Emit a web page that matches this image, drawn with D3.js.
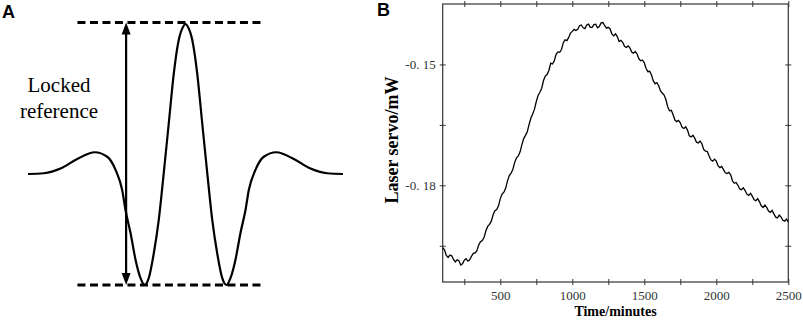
<!DOCTYPE html>
<html>
<head>
<meta charset="utf-8">
<script src="https://cdn.jsdelivr.net/npm/d3@7"></script>
<style>
  body { margin: 0; background: #fff; }
  svg { display: block; }
</style>
</head>
<body>
<svg id="chart" width="803" height="323"></svg>
<script>
// Panel A: schematic error signal (arbitrary units)
const schemX = [-10, -9, -7.9, -6.88, -5.76, -4.97, -4.44, -4.02, -3.81, -3.49, -3.17, -2.86, -2.6, -2.33, -2.01, -1.7, -1.38, -1.06, -0.74, -0.43, -0.15, 0,
  0.15, 0.43, 0.74, 1.06, 1.38, 1.7, 2.01, 2.33, 2.6, 2.86, 3.17, 3.49, 3.81, 4.02, 4.44, 4.97, 5.76, 6.88, 7.9, 9, 10];
const schemY = [0, 0.005, 0.038, 0.1, 0.145, 0.115, 0.027, -0.107, -0.24, -0.393, -0.573, -0.693, -0.74, -0.693, -0.527, -0.307, 0.007, 0.34, 0.673, 0.893, 0.982, 1,
  0.982, 0.893, 0.673, 0.34, 0.007, -0.307, -0.527, -0.693, -0.74, -0.693, -0.573, -0.393, -0.24, -0.107, 0.027, 0.115, 0.145, 0.1, 0.038, 0.005, 0];
const refLevels = [1.01, -0.74];
const refSpan = [-6.86, 4.95];
const arrowX = -3.77;
const lockedLabel = ["Locked", "reference"];

// Panel B: laser servo (mW) vs time (minutes)
const timeMin = [100, 112.5, 125, 137.5, 150, 162.5, 175, 187.5, 200, 212.5, 225, 237.5, 250, 262.5, 275, 287.5,
  300, 312.5, 325, 337.5, 350, 362.5, 375, 387.5, 400, 412.5, 425, 437.5, 450, 462.5, 475, 487.5,
  500, 512.5, 525, 537.5, 550, 562.5, 575, 587.5, 600, 612.5, 625, 637.5, 650, 662.5, 675, 687.5,
  700, 712.5, 725, 737.5, 750, 762.5, 775, 787.5, 800, 812.5, 825, 837.5, 850, 862.5, 875, 887.5,
  900, 912.5, 925, 937.5, 950, 962.5, 975, 987.5, 1000, 1012.5, 1025, 1037.5, 1050, 1062.5, 1075, 1087.5,
  1100, 1112.5, 1125, 1137.5, 1150, 1162.5, 1175, 1187.5, 1200, 1212.5, 1225, 1237.5, 1250, 1262.5, 1275, 1287.5,
  1300, 1312.5, 1325, 1337.5, 1350, 1362.5, 1375, 1387.5, 1400, 1412.5, 1425, 1437.5, 1450, 1462.5, 1475, 1487.5,
  1500, 1512.5, 1525, 1537.5, 1550, 1562.5, 1575, 1587.5, 1600, 1612.5, 1625, 1637.5, 1650, 1662.5, 1675, 1687.5,
  1700, 1712.5, 1725, 1737.5, 1750, 1762.5, 1775, 1787.5, 1800, 1812.5, 1825, 1837.5, 1850, 1862.5, 1875, 1887.5,
  1900, 1912.5, 1925, 1937.5, 1950, 1962.5, 1975, 1987.5, 2000, 2012.5, 2025, 2037.5, 2050, 2062.5, 2075, 2087.5,
  2100, 2112.5, 2125, 2137.5, 2150, 2162.5, 2175, 2187.5, 2200, 2212.5, 2225, 2237.5, 2250, 2262.5, 2275, 2287.5,
  2300, 2312.5, 2325, 2337.5, 2350, 2362.5, 2375, 2387.5, 2400, 2412.5, 2425, 2437.5, 2450, 2462.5, 2475, 2487.5, 2500];
const servo = [-0.1955, -0.1960, -0.1974, -0.1979, -0.1973, -0.1975, -0.1984, -0.1990, -0.1985, -0.1987, -0.1998, -0.1995, -0.1986, -0.1982, -0.1988, -0.1985,
  -0.1976, -0.1969, -0.1968, -0.1962, -0.1948, -0.1940, -0.1937, -0.1929, -0.1913, -0.1902, -0.1897, -0.1889, -0.1873, -0.1863, -0.1860, -0.1851,
  -0.1833, -0.1822, -0.1817, -0.1807, -0.1789, -0.1776, -0.1770, -0.1760, -0.1743, -0.1732, -0.1727, -0.1717, -0.1699, -0.1684, -0.1676, -0.1667,
  -0.1649, -0.1633, -0.1623, -0.1611, -0.1592, -0.1577, -0.1569, -0.1559, -0.1540, -0.1529, -0.1525, -0.1515, -0.1497, -0.1499, -0.1491, -0.1475,
  -0.1469, -0.1470, -0.1463, -0.1446, -0.1439, -0.1441, -0.1433, -0.1422, -0.1418, -0.1413, -0.1416, -0.1413, -0.1404, -0.1402, -0.1409, -0.1411,
  -0.1402, -0.1400, -0.1408, -0.1408, -0.1401, -0.1400, -0.1409, -0.1406, -0.1397, -0.1396, -0.1404, -0.1410, -0.1408, -0.1412, -0.1424, -0.1429,
  -0.1424, -0.1431, -0.1443, -0.1440, -0.1445, -0.1455, -0.1458, -0.1454, -0.1459, -0.1469, -0.1472, -0.1468, -0.1474, -0.1486, -0.1491, -0.1489,
  -0.1496, -0.1510, -0.1518, -0.1517, -0.1526, -0.1541, -0.1548, -0.1545, -0.1553, -0.1566, -0.1571, -0.1576, -0.1587, -0.1605, -0.1615, -0.1614,
  -0.1625, -0.1638, -0.1642, -0.1639, -0.1645, -0.1656, -0.1659, -0.1655, -0.1663, -0.1677, -0.1680, -0.1676, -0.1683, -0.1693, -0.1695, -0.1690,
  -0.1697, -0.1711, -0.1715, -0.1716, -0.1727, -0.1737, -0.1740, -0.1735, -0.1740, -0.1752, -0.1756, -0.1753, -0.1761, -0.1769, -0.1771, -0.1768,
  -0.1774, -0.1789, -0.1795, -0.1793, -0.1800, -0.1809, -0.1811, -0.1806, -0.1813, -0.1822, -0.1825, -0.1820, -0.1827, -0.1836, -0.1838, -0.1833,
  -0.1841, -0.1851, -0.1855, -0.1849, -0.1855, -0.1864, -0.1867, -0.1862, -0.1871, -0.1879, -0.1881, -0.1874, -0.1879, -0.1887, -0.1889, -0.1884, -0.1891];
const xMajor = [500, 1000, 1500, 2000, 2500];
const xMinor = [250, 750, 1250, 1750, 2250];
const yMajor = [-0.15, -0.18];
const yMinor = [-0.165, -0.195];
const yTickLabels = ["-0. 15", "-0. 18"];

const svg = d3.select("#chart");
const serif = "'Liberation Serif', 'Times New Roman', serif";

// ---------- Panel A ----------
const ax = d3.scaleLinear().domain([-10, 10]).range([28, 343]);
const ay = d3.scaleLinear().domain([0, 1]).range([174, 24]);

svg.append("text")
  .attr("x", 2).attr("y", 18)
  .attr("font-family", "'Liberation Sans', Arial, sans-serif")
  .attr("font-weight", "bold").attr("font-size", 18)
  .text("A");

refLevels.forEach(v => {
  svg.append("line")
    .attr("x1", ax(refSpan[0])).attr("x2", ax(refSpan[1]))
    .attr("y1", ay(v)).attr("y2", ay(v))
    .attr("stroke", "#000").attr("stroke-width", 3)
    .attr("stroke-dasharray", "8,4.5");
});

svg.append("path")
  .datum(schemX.map((x, i) => [x, schemY[i]]))
  .attr("d", d3.line().x(d => ax(d[0])).y(d => ay(d[1])).curve(d3.curveMonotoneX))
  .attr("fill", "none").attr("stroke", "#000").attr("stroke-width", 2.2);

// double-headed arrow
const axPos = ax(arrowX), yTop = ay(refLevels[0]), yBot = ay(refLevels[1]);
svg.append("line")
  .attr("x1", axPos).attr("x2", axPos)
  .attr("y1", yTop + 8).attr("y2", yBot - 8)
  .attr("stroke", "#000").attr("stroke-width", 2.2);
svg.append("path")
  .attr("d", `M${axPos},${yTop} L${axPos - 4.5},${yTop + 12} L${axPos + 4.5},${yTop + 12} Z`)
  .attr("fill", "#000");
svg.append("path")
  .attr("d", `M${axPos},${yBot} L${axPos - 4.5},${yBot - 12} L${axPos + 4.5},${yBot - 12} Z`)
  .attr("fill", "#000");

lockedLabel.forEach((t, i) => {
  svg.append("text")
    .attr("x", 59).attr("y", 92 + i * 25.5)
    .attr("text-anchor", "middle")
    .attr("font-family", serif).attr("font-size", 21)
    .text(t);
});

// ---------- Panel B ----------
const pLeft = 442.7, pRight = 788.3, pTop = 4, pBottom = 282;
const x = d3.scaleLinear().domain([100, 2500]).range([pLeft, pRight]);
const y = d3.scaleLinear().domain([-0.204, -0.135]).range([pBottom, pTop]);

svg.append("text")
  .attr("x", 377).attr("y", 16)
  .attr("font-family", "'Liberation Sans', Arial, sans-serif")
  .attr("font-weight", "bold").attr("font-size", 18)
  .text("B");

// ticks cross the frame: 3px out, 3px in
svg.append("g").attr("transform", `translate(0,${pBottom})`)
  .call(d3.axisBottom(x).tickValues(xMajor).tickSize(3).tickPadding(6).tickFormat(d3.format("d")))
  .call(g => g.selectAll(".tick line").attr("y1", -3));
svg.append("g").attr("transform", `translate(0,${pBottom})`)
  .call(d3.axisBottom(x).tickValues(xMinor).tickSize(3).tickFormat(""))
  .call(g => g.selectAll(".tick line").attr("y1", -3));
svg.append("g").attr("transform", `translate(0,${pTop})`)
  .call(d3.axisTop(x).tickValues(xMajor.concat(xMinor)).tickSize(3).tickFormat(""))
  .call(g => g.selectAll(".tick line").attr("y1", 3));

svg.append("g").attr("transform", `translate(${pLeft},0)`)
  .call(d3.axisLeft(y).tickValues(yMajor).tickSize(3).tickPadding(4).tickFormat((d, i) => yTickLabels[i]))
  .call(g => g.selectAll(".tick line").attr("x1", 3));
svg.append("g").attr("transform", `translate(${pLeft},0)`)
  .call(d3.axisLeft(y).tickValues(yMinor).tickSize(3).tickFormat(""))
  .call(g => g.selectAll(".tick line").attr("x1", 3));
svg.append("g").attr("transform", `translate(${pRight},0)`)
  .call(d3.axisRight(y).tickValues(yMajor.concat(yMinor)).tickSize(3).tickFormat(""))
  .call(g => g.selectAll(".tick line").attr("x1", -3));

svg.selectAll(".domain").attr("stroke", "none");
svg.selectAll(".tick line").attr("stroke", "#333");
svg.selectAll(".tick text")
  .attr("font-family", serif).attr("font-size", 13).attr("fill", "#333");

svg.append("rect")
  .attr("x", pLeft).attr("y", pTop)
  .attr("width", pRight - pLeft).attr("height", pBottom - pTop)
  .attr("fill", "none").attr("stroke", "#333").attr("stroke-width", 1.2);

svg.append("path")
  .datum(timeMin.map((t, i) => [t, servo[i]]))
  .attr("d", d3.line().x(d => x(d[0])).y(d => y(d[1])))
  .attr("fill", "none").attr("stroke", "#000").attr("stroke-width", 1.3);

svg.append("text")
  .attr("x", (pLeft + pRight) / 2).attr("y", 316)
  .attr("text-anchor", "middle")
  .attr("font-family", serif).attr("font-weight", "bold").attr("font-size", 14)
  .text("Time/minutes");

svg.append("text")
  .attr("transform", `translate(398,140) rotate(-90)`)
  .attr("text-anchor", "middle")
  .attr("font-family", serif).attr("font-weight", "bold").attr("font-size", 18)
  .text("Laser servo/mW");
</script>
</body>
</html>
